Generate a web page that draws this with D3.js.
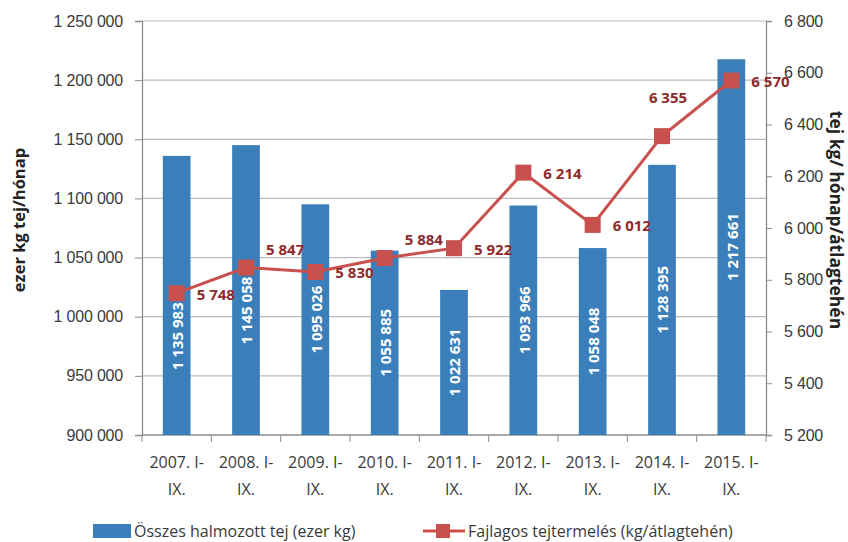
<!DOCTYPE html>
<html>
<head>
<meta charset="utf-8">
<script src="https://cdn.jsdelivr.net/npm/d3@7/dist/d3.min.js"></script>
<style>
  html, body { margin: 0; padding: 0; background: #fff; }
  svg { display: block; font-family: "Open Sans", "Liberation Sans", sans-serif; }
</style>
</head>
<body>
<div id="chart"></div>
<script>
// data
const periods = ["2007. I-|IX.", "2008. I-|IX.", "2009. I-|IX.", "2010. I-|IX.", "2011. I-|IX.",
                 "2012. I-|IX.", "2013. I-|IX.", "2014. I-|IX.", "2015. I-|IX."];
const totalMilk = [1135983, 1145058, 1095026, 1055885, 1022631, 1093966, 1058048, 1128395, 1217661];
const yieldPerCow = [5748, 5847, 5830, 5884, 5922, 6214, 6012, 6355, 6570];
const leftTicks = [900000, 950000, 1000000, 1050000, 1100000, 1150000, 1200000, 1250000];
const rightTicks = [5200, 5400, 5600, 5800, 6000, 6200, 6400, 6600, 6800];

const barName = "Összes halmozott tej (ezer kg)";
const lineName = "Fajlagos tejtermelés (kg/átlagtehén)";

// where each line label sits relative to its marker
const lineLabelPlace = ["right", "aboveRight", "right", "aboveRight", "right", "right", "right", "above", "right"];

const W = 848, H = 542;
const margin = { top: 21, right: 82, bottom: 107, left: 142 };
const width = W - margin.left - margin.right;
const height = H - margin.top - margin.bottom;

const BLUE = "#3a7fba", RED = "#c8504d", LABEL_RED = "#8f2a2a";
const GRID = "#bdb8c4", AXIS = "#8c8c8c", TEXT = "#3a3a3a";

const fmt = v => d3.format(",")(v).replace(/,/g, " ");

const svg = d3.select("#chart").append("svg")
    .attr("width", W).attr("height", H);
const g = svg.append("g").attr("transform", `translate(${margin.left},${margin.top})`);

// scales
const x = d3.scaleBand().domain(periods).range([0, width]).paddingInner(0.6).paddingOuter(0.3);
const xc = d => x(d) + x.bandwidth() / 2;
const yL = d3.scaleLinear().domain([900000, 1250000]).range([height, 0]);
const yR = d3.scaleLinear().domain([5200, 6800]).range([height, 0]);
const step = width / periods.length;

// gridlines
g.append("g").selectAll("line").data(leftTicks.slice(1)).join("line")
    .attr("x1", 0).attr("x2", width)
    .attr("y1", d => yL(d)).attr("y2", d => yL(d))
    .attr("stroke", GRID).attr("stroke-width", 1.2);

// left axis
const axL = g.append("g")
    .call(d3.axisLeft(yL).tickValues(leftTicks).tickFormat(fmt).tickSize(7).tickPadding(12));
axL.select(".domain").attr("stroke", AXIS).attr("stroke-width", 1.3);
axL.selectAll(".tick line").attr("stroke", AXIS);
axL.selectAll("text").attr("fill", TEXT).style("font-size", "16px").style("letter-spacing", "-0.2px");

// right axis
const axR = g.append("g").attr("transform", `translate(${width},0)`)
    .call(d3.axisRight(yR).tickValues(rightTicks).tickFormat(fmt).tickSize(6).tickPadding(12));
axR.select(".domain").attr("stroke", AXIS).attr("stroke-width", 1.3);
axR.selectAll(".tick line").attr("stroke", AXIS);
axR.selectAll("text").attr("fill", TEXT).style("font-size", "16px").style("letter-spacing", "-0.2px");

// bottom axis with ticks between categories
const axB = g.append("g").attr("transform", `translate(0,${height})`);
axB.append("line").attr("x1", 0).attr("x2", width).attr("stroke", AXIS).attr("stroke-width", 1.3);
axB.selectAll(".sep").data(d3.range(periods.length + 1)).join("line")
    .attr("x1", i => i * step).attr("x2", i => i * step)
    .attr("y1", 0).attr("y2", 7).attr("stroke", AXIS);
const xl = axB.selectAll(".xl").data(periods).join("text")
    .attr("x", d => xc(d)).attr("y", 33)
    .attr("text-anchor", "middle").attr("fill", TEXT)
    .style("font-size", "16px");
xl.append("tspan").attr("x", d => xc(d)).text(d => d.split("|")[0]);
xl.append("tspan").attr("x", d => xc(d)).attr("dy", 27).text(d => d.split("|")[1]);

// bars
g.selectAll(".bar").data(periods).join("rect")
    .attr("x", d => x(d)).attr("width", x.bandwidth())
    .attr("y", (d, i) => yL(totalMilk[i]))
    .attr("height", (d, i) => height - yL(totalMilk[i]))
    .attr("fill", BLUE);

// line + markers
const line = d3.line().x((d, i) => xc(periods[i])).y(d => yR(d));
g.append("path").datum(yieldPerCow)
    .attr("d", line).attr("fill", "none")
    .attr("stroke", RED).attr("stroke-width", 3);

// bar labels: centered, pushed below the marker when they would collide
const halfLabel = 43;
g.selectAll(".blab").data(periods).join("text")
    .attr("transform", (d, i) => {
        const mid = (yL(totalMilk[i]) + height) / 2;
        const cy = Math.max(mid, yR(yieldPerCow[i]) + halfLabel);
        return `translate(${xc(d) + 1},${cy}) rotate(-90)`;
    })
    .attr("text-anchor", "middle").attr("dy", "0.36em")
    .attr("fill", "#fff").style("font-size", "15px").style("font-weight", "bold")
    .text((d, i) => fmt(totalMilk[i]));

g.selectAll(".mk").data(yieldPerCow).join("rect")
    .attr("x", (d, i) => xc(periods[i]) - 8).attr("y", d => yR(d) - 8)
    .attr("width", 16).attr("height", 16).attr("fill", RED);

// line labels
g.selectAll(".llab").data(yieldPerCow).join("text")
    .attr("x", (d, i) => {
        const p = lineLabelPlace[i], cx = xc(periods[i]);
        return p === "above" ? cx + 6 : cx + 20;
    })
    .attr("y", (d, i) => {
        const p = lineLabelPlace[i], cy = yR(d);
        return p === "above" ? cy - 39 : p === "aboveRight" ? cy - 18 : cy + 1;
    })
    .attr("text-anchor", (d, i) => lineLabelPlace[i] === "above" ? "middle" : "start")
    .attr("dy", "0.36em")
    .attr("fill", LABEL_RED).style("font-size", "15px").style("font-weight", "bold")
    .text(d => fmt(d));

// axis titles
svg.append("text")
    .attr("transform", `translate(19,${margin.top + 199}) rotate(-90)`)
    .attr("text-anchor", "middle").attr("dy", "0.36em")
    .attr("fill", "#222").style("font-size", "16.5px").style("font-weight", "bold")
    .text("ezer kg tej/hónap");

svg.append("text")
    .attr("transform", `translate(836,${margin.top + 199}) rotate(90)`)
    .attr("text-anchor", "middle").attr("dy", "0.36em")
    .attr("fill", "#222").style("font-size", "17.5px").style("font-weight", "bold")
    .text("tej kg/ hónap/átlagtehén");

// legend
const leg = svg.append("g").attr("transform", `translate(0,531)`);
leg.append("rect").attr("x", 93).attr("y", -7).attr("width", 38).attr("height", 14).attr("fill", BLUE);
leg.append("text").attr("x", 134).attr("dy", "0.36em").attr("fill", TEXT)
    .style("font-size", "16px").text(barName);
leg.append("line").attr("x1", 423).attr("x2", 465).attr("stroke", RED).attr("stroke-width", 3);
leg.append("rect").attr("x", 436).attr("y", -7).attr("width", 14).attr("height", 14).attr("fill", RED);
leg.append("text").attr("x", 468).attr("dy", "0.36em").attr("fill", TEXT)
    .style("font-size", "16px").text(lineName);
</script>
</body>
</html>
